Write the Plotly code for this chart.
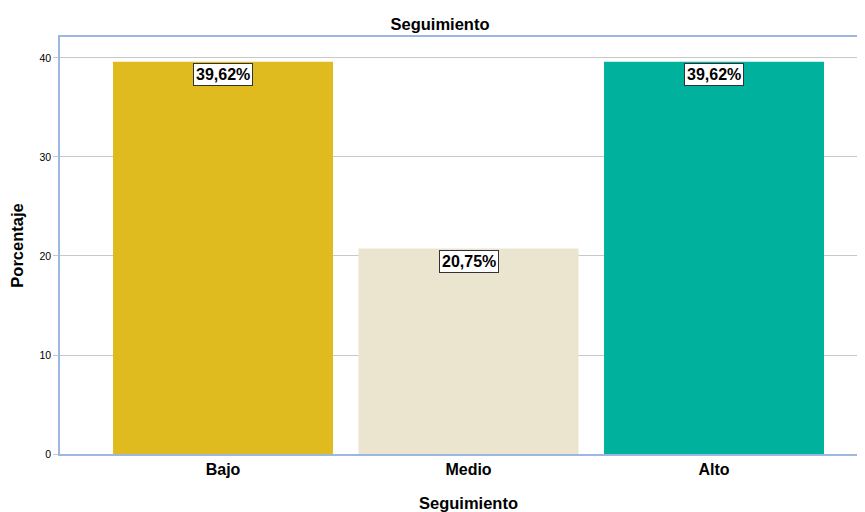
import plotly.graph_objects as go

categories = ["Bajo", "Medio", "Alto"]
values = [39.62, 20.75, 39.62]
labels = ["39,62%", "20,75%", "39,62%"]
colors = ["#e0bb1f", "#ebe4cf", "#00b29d"]

FONT = "Arial, Liberation Sans, sans-serif"

fig = go.Figure()
fig.add_trace(go.Bar(x=categories, y=values, marker=dict(color=colors, line=dict(width=0)),
                     width=0.896, showlegend=False, hoverinfo="skip"))

for c, v, t in zip(categories, values, labels):
    fig.add_annotation(x=c, y=v, text="<b>" + t + "</b>", showarrow=False, yanchor="top", yshift=-1,
                       font=dict(family=FONT, size=16, color="#000"),
                       bgcolor="white", bordercolor="#333", borderwidth=1, borderpad=2)

# x-axis title as annotation for precise placement
fig.add_annotation(text="<b>Seguimiento</b>", xref="paper", yref="paper", x=0.508, y=-49/417,
                   xanchor="center", yanchor="middle", showarrow=False,
                   font=dict(family=FONT, size=16.5, color="#000"))

# page body has an 8px margin, so layout positions are offset by -8px
fig.update_layout(
    width=865, height=512,
    margin=dict(l=52, r=8, t=29, b=66, autoexpand=False),
    paper_bgcolor="white", plot_bgcolor="white",
    font=dict(family=FONT, color="#000"),
    title=dict(text="<b>Seguimiento</b>", x=432/865, xanchor="center", xref="container",
               yref="container", y=1-16/512, yanchor="middle", automargin=False,
               font=dict(size=16.5)),
    xaxis=dict(range=[-0.664, 2.615], showgrid=False, showline=True, linecolor="#9db8e0", linewidth=1.5,
               mirror=True, ticks="", tickfont=dict(size=16), tickprefix="<b>", ticksuffix="</b>",
               automargin=False),
    yaxis=dict(range=[0, 42.12], tickvals=[0, 10, 20, 30, 40], showgrid=True, gridcolor="#c8c8c8",
               showline=True, linecolor="#9db8e0", linewidth=1.5, mirror=True, ticks="outside",
               ticklen=5, tickcolor="#c8c8c8", tickfont=dict(size=10.5), zeroline=False,
               automargin=False,
               title=dict(text="<b>Porcentaje</b>", font=dict(size=16.5))),
    bargap=0.1,
)

fig.write_html("out.html")
